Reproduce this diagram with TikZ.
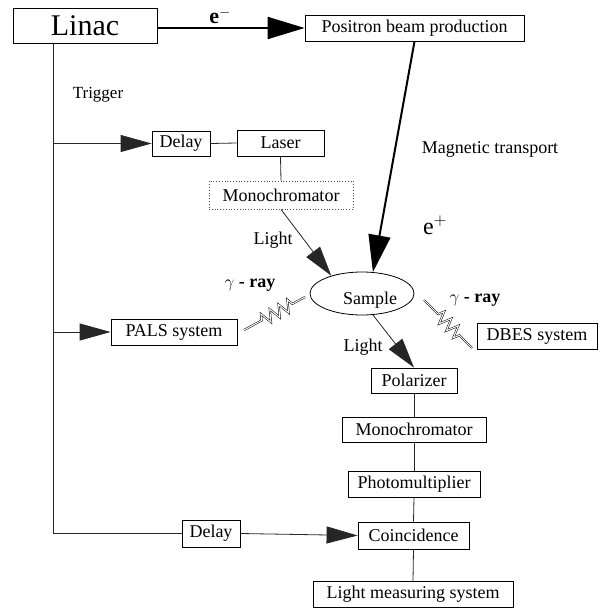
\documentclass[tikz,border=0pt]{standalone}
\usepackage{fontspec}
\setmainfont{Liberation Serif}
\usetikzlibrary{arrows.meta,decorations.pathmorphing,shapes.geometric}
\begin{document}
\begin{tikzpicture}[x=1pt,y=-1pt,
  box/.style={draw=black,line width=0.8pt,inner sep=0pt,font=\fontsize{18}{20}\selectfont},
  lbl/.style={inner sep=0pt,font=\fontsize{18}{20}\selectfont},
  conn/.style={line width=0.8pt,draw=black!85},
  harrow/.style={conn,-{Triangle[length=31pt,width=17pt]}},
  larrow/.style={conn,-{Triangle[length=30pt,width=17pt]}},
  barrow/.style={line width=2pt,-{Triangle[length=37pt,width=22pt]}},
  bolt/.style={line width=0.5pt,double,double distance=1pt,decorate,decoration={zigzag,segment length=10pt,amplitude=6pt,pre length=20pt,post length=14pt}}
]
\useasboundingbox (0,0) rectangle (606,608);

% boxes
\node[box,minimum width=144pt,minimum height=35pt,font=\fontsize{30}{32}\selectfont] (linac) at (85,25.5) {Linac};
\node[box,minimum width=219pt,minimum height=26pt] (pos) at (414.5,28) {Positron beam production};
\node[box,minimum width=58pt,minimum height=25pt] (delay1) at (181,143.5) {Delay};
\node[box,minimum width=87pt,minimum height=26pt] (laser) at (280.5,143) {Laser};
\node[box,dotted,draw=black!70,minimum width=144pt,minimum height=28pt] (mono1) at (281,195) {Monochromator};
\node[draw=black,line width=0.8pt,ellipse,inner sep=0pt,minimum width=104pt,minimum height=43pt] (sample) at (362,293.5) {};
\node[lbl] (sampletxt) at (370,300) {Sample};
\node[box,minimum width=126pt,minimum height=26pt] (pals) at (174,332) {PALS system};
\node[box,minimum width=120pt,minimum height=26pt] (dbes) at (537,336) {DBES system};
\node[box,minimum width=86pt,minimum height=25pt] (pol) at (414,380.5) {Polarizer};
\node[box,minimum width=144pt,minimum height=25pt] (mono2) at (414,429.5) {Monochromator};
\node[box,minimum width=132pt,minimum height=26pt] (photo) at (414,484) {Photomultiplier};
\node[box,minimum width=111pt,minimum height=27pt] (coinc) at (413.5,535.5) {Coincidence};
\node[box,minimum width=58pt,minimum height=27pt] (delay2) at (211,533.5) {Delay};
\node[box,minimum width=200pt,minimum height=26pt] (lms) at (413,594.5) {Light measuring system};

% labels
\node[inner sep=0pt,font=\fontsize{22}{24}\selectfont] (eminus) at (220,16) {\textbf{e}$^{-}$};
\node[lbl,font=\fontsize{17}{19}\selectfont] (trigger) at (98,95) {Trigger};
\node[lbl] (magtr) at (490,149) {Magnetic transport};
\node[inner sep=0pt,font=\fontsize{24}{26}\selectfont] (eplus) at (435,225) {e$^{+}$};
\node[lbl] (light1) at (273,240) {Light};
\node[lbl] (light2) at (363,347) {Light};
\node[lbl] (gam1) at (250,285) {$\gamma$ \textbf{- ray}};
\node[lbl] (gam2) at (475,300) {$\gamma$ \textbf{- ray}};

% coordinates
\coordinate (ltop) at ([xshift=-32pt]linac.south);
\coordinate (zl1) at (244,330);
\coordinate (zl2) at (305,297);
\coordinate (zr1) at (424,300);
\coordinate (zr2) at (472,348);

% connectors
\draw[barrow] (linac.east |- pos.west) -- (pos.west);
\draw[barrow] (pos.south) -- (sample.63);
\draw[conn] (ltop) |- (delay2.west);
\draw[harrow] (ltop |- delay1.west) -- (delay1.west);
\draw[harrow] (ltop |- pals.west) -- (pals.west);
\draw[conn] (delay1.east) -- (laser.west);
\draw[conn] (laser.south) -- (mono1.north);
\draw[larrow] (mono1.south) -- (sample.150);
\draw[larrow] (sample.-63) -- (pol.north);
\draw[conn] (pol.south) -- (mono2.north);
\draw[conn] (mono2.south) -- (photo.north);
\draw[conn] (photo.south) -- (coinc.north);
\draw[conn] (coinc.south) -- (lms.north);
\draw[harrow] (delay2.east) -- (coinc.west);
\draw[bolt] (zl1) -- (zl2);
\draw[bolt] (zr1) -- (zr2);
\end{tikzpicture}
\end{document}
